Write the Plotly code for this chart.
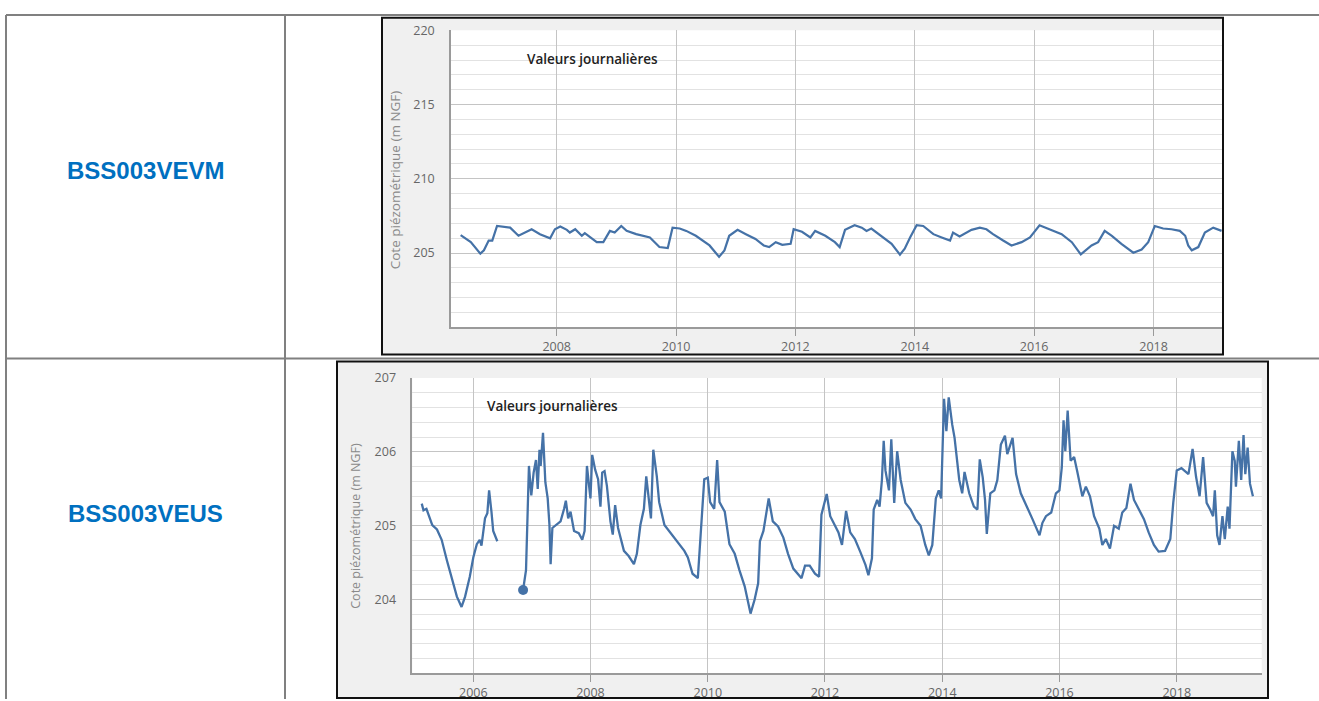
import datetime as dt
import plotly.graph_objects as go

W, H = 1319, 701

# ---------------- data ----------------
station_labels = ["BSS003VEVM", "BSS003VEUS"]
series_label = "Valeurs journalières"
y_title = "Cote piézométrique (m NGF)"

vevm_years = [
    2006.39, 2006.56, 2006.72, 2006.78, 2006.86, 2006.92, 2007.00, 2007.11, 2007.22, 2007.36,
    2007.44, 2007.58, 2007.72, 2007.89, 2007.97, 2008.06, 2008.17, 2008.22, 2008.31, 2008.42,
    2008.47, 2008.67, 2008.78, 2008.89, 2008.97, 2009.08, 2009.17, 2009.33, 2009.56, 2009.72,
    2009.86, 2009.94, 2010.06, 2010.17, 2010.33, 2010.56, 2010.72, 2010.81, 2010.89, 2011.03,
    2011.17, 2011.33, 2011.47, 2011.56, 2011.67, 2011.78, 2011.92, 2011.97, 2012.11, 2012.25,
    2012.33, 2012.50, 2012.66, 2012.74, 2012.83, 2012.99, 2013.11, 2013.19, 2013.27, 2013.44,
    2013.61, 2013.75, 2013.83, 2013.92, 2014.03, 2014.14, 2014.31, 2014.45, 2014.59, 2014.64,
    2014.75, 2014.95, 2015.09, 2015.20, 2015.31, 2015.48, 2015.62, 2015.79, 2015.93, 2016.09,
    2016.23, 2016.46, 2016.63, 2016.78, 2016.96, 2017.07, 2017.18, 2017.30, 2017.46, 2017.66,
    2017.80, 2017.91, 2018.02, 2018.16, 2018.30, 2018.44, 2018.53, 2018.58, 2018.64, 2018.75,
    2018.86, 2019.00, 2019.14,
]
vevm_levels = [
    206.21, 205.73, 204.96, 205.18, 205.84, 205.84, 206.82, 206.78, 206.71, 206.16,
    206.34, 206.60, 206.27, 205.99, 206.60, 206.78, 206.56, 206.38, 206.60, 206.16,
    206.34, 205.73, 205.73, 206.49, 206.38, 206.82, 206.49, 206.27, 206.05, 205.40,
    205.33, 206.71, 206.65, 206.49, 206.16, 205.51, 204.74, 205.18, 206.16, 206.56,
    206.27, 205.95, 205.51, 205.40, 205.73, 205.55, 205.62, 206.60, 206.43, 206.05,
    206.49, 206.16, 205.73, 205.40, 206.56, 206.87, 206.71, 206.49, 206.65, 206.16,
    205.62, 204.89, 205.29, 206.05, 206.87, 206.82, 206.27, 206.05, 205.84, 206.38,
    206.12, 206.56, 206.71, 206.60, 206.27, 205.84, 205.51, 205.73, 206.05, 206.87,
    206.65, 206.27, 205.73, 204.91, 205.51, 205.73, 206.49, 206.16, 205.62, 205.02,
    205.24, 205.73, 206.82, 206.65, 206.60, 206.49, 206.16, 205.51, 205.18, 205.40,
    206.38, 206.71, 206.49,
]

# None marks the gap in the record (mid-2006)
veus_years = [
    2005.12, 2005.15, 2005.20, 2005.24, 2005.30, 2005.38, 2005.46, 2005.55, 2005.63, 2005.72,
    2005.80, 2005.86, 2005.94, 2006.00, 2006.06, 2006.11, 2006.14, 2006.20, 2006.24, 2006.27,
    2006.31, 2006.34, 2006.41, None,
    2006.85, 2006.90, 2006.95, 2006.99, 2007.03, 2007.07, 2007.10, 2007.13, 2007.15, 2007.19,
    2007.23, 2007.27, 2007.30, 2007.32, 2007.35, 2007.41, 2007.49, 2007.55, 2007.58, 2007.62,
    2007.66, 2007.72, 2007.80, 2007.86, 2007.90, 2007.94, 2008.00, 2008.03, 2008.08, 2008.13,
    2008.17, 2008.20, 2008.24, 2008.28, 2008.34, 2008.38, 2008.42, 2008.47, 2008.57, 2008.65,
    2008.74, 2008.79, 2008.85, 2008.91, 2008.95, 2009.03, 2009.07, 2009.13, 2009.17, 2009.26,
    2009.34, 2009.43, 2009.51, 2009.60, 2009.66, 2009.74, 2009.83, 2009.89, 2009.94, 2010.00,
    2010.04, 2010.11, 2010.16, 2010.20, 2010.29, 2010.37, 2010.46, 2010.54, 2010.63, 2010.73,
    2010.80, 2010.86, 2010.89, 2010.95, 2011.04, 2011.11, 2011.20, 2011.29, 2011.37, 2011.46,
    2011.54, 2011.60, 2011.66, 2011.74, 2011.83, 2011.90, 2011.94, 2012.03, 2012.09, 2012.17,
    2012.23, 2012.29, 2012.36, 2012.43, 2012.51, 2012.60, 2012.69, 2012.74, 2012.80, 2012.83,
    2012.89, 2012.93, 2012.97, 2013.00, 2013.03, 2013.09, 2013.13, 2013.18, 2013.23, 2013.29,
    2013.37, 2013.46, 2013.54, 2013.63, 2013.71, 2013.77, 2013.83, 2013.89, 2013.94, 2013.98,
    2014.03, 2014.07, 2014.11, 2014.17, 2014.21, 2014.29, 2014.34, 2014.38, 2014.46, 2014.54,
    2014.60, 2014.64, 2014.69, 2014.73, 2014.76, 2014.82, 2014.89, 2014.94, 2015.00, 2015.07,
    2015.11, 2015.20, 2015.26, 2015.34, 2015.43, 2015.54, 2015.66, 2015.71, 2015.77, 2015.86,
    2015.94, 2016.00, 2016.04, 2016.07, 2016.10, 2016.14, 2016.19, 2016.25, 2016.30, 2016.35,
    2016.39, 2016.45, 2016.52, 2016.59, 2016.68, 2016.73, 2016.79, 2016.86, 2016.93, 2017.01,
    2017.07, 2017.14, 2017.21, 2017.27, 2017.35, 2017.44, 2017.52, 2017.61, 2017.69, 2017.80,
    2017.89, 2017.94, 2018.00, 2018.08, 2018.20, 2018.27, 2018.33, 2018.39, 2018.45, 2018.51,
    2018.57, 2018.62, 2018.65, 2018.69, 2018.73, 2018.78, 2018.82, 2018.87, 2018.90, 2018.95,
    2018.99, 2019.01, 2019.06, 2019.10, 2019.14, 2019.17, 2019.21, 2019.25, 2019.30,
]
veus_levels = [
    205.30, 205.21, 205.23, 205.15, 205.01, 204.95, 204.81, 204.53, 204.31, 204.04,
    203.90, 204.04, 204.31, 204.57, 204.75, 204.81, 204.73, 205.10, 205.17, 205.48,
    205.19, 204.93, 204.79, None,
    204.13, 204.40, 205.81, 205.41, 205.72, 205.89, 205.50, 206.03, 205.81, 206.26,
    205.59, 205.37, 205.01, 204.48, 204.97, 205.01, 205.06, 205.23, 205.34, 205.10,
    205.19, 204.93, 204.90, 204.81, 204.93, 205.81, 205.37, 205.96, 205.76, 205.63,
    205.26, 205.72, 205.74, 205.54, 205.06, 204.88, 205.28, 204.97, 204.66, 204.59,
    204.48, 204.62, 205.01, 205.23, 205.67, 205.10, 206.03, 205.67, 205.32, 205.01,
    204.93, 204.84, 204.75, 204.66, 204.57, 204.35, 204.29, 204.97, 205.63, 205.65,
    205.32, 205.23, 205.89, 205.32, 205.19, 204.75, 204.62, 204.40, 204.18, 203.81,
    204.00, 204.22, 204.79, 204.93, 205.37, 205.06, 204.99, 204.84, 204.62, 204.42,
    204.35, 204.29, 204.46, 204.46, 204.35, 204.31, 205.15, 205.43, 205.13, 205.00,
    204.91, 204.74, 205.20, 204.91, 204.82, 204.65, 204.47, 204.33, 204.56, 205.22,
    205.35, 205.26, 205.62, 206.15, 205.75, 205.48, 206.17, 205.31, 206.01, 205.62,
    205.31, 205.22, 205.09, 205.00, 204.74, 204.60, 204.74, 205.37, 205.48, 205.37,
    206.72, 206.28, 206.74, 206.37, 206.19, 205.62, 205.44, 205.73, 205.44, 205.26,
    205.22, 205.90, 205.66, 205.35, 204.89, 205.44, 205.48, 205.62, 206.10, 206.22,
    205.97, 206.19, 205.70, 205.44, 205.29, 205.09, 204.87, 205.04, 205.13, 205.18,
    205.44, 205.48, 205.79, 206.43, 206.01, 206.56, 205.88, 205.93, 205.75, 205.57,
    205.40, 205.53, 205.40, 205.13, 204.96, 204.74, 204.82, 204.69, 205.00, 204.96,
    205.18, 205.24, 205.57, 205.35, 205.22, 205.09, 204.91, 204.74, 204.65, 204.66,
    204.82, 205.31, 205.75, 205.78, 205.70, 206.04, 205.66, 205.40, 205.93, 205.31,
    205.22, 205.13, 205.48, 204.87, 204.74, 205.13, 204.82, 205.26, 204.96, 206.01,
    205.88, 205.53, 206.15, 205.62, 206.23, 205.70, 206.06, 205.57, 205.40,
]

vevm_y_ticks = [205, 210, 215, 220]
veus_y_ticks = [204, 205, 206, 207]


def to_date(y):
    if y is None:
        return None
    yr = int(y)
    start = dt.datetime(yr, 1, 1)
    end = dt.datetime(yr + 1, 1, 1)
    return start + (end - start) * (y - yr)


vevm_dates = [to_date(v) for v in vevm_years]
veus_dates = [to_date(v) for v in veus_years]
restart = veus_years.index(None) + 1

# ---------------- layout helpers (pixels -> paper) ----------------
def px(x):
    return x / W


def py(y):
    return 1 - y / H


LINE = "#4572a7"
GRID = "#c4c4c4"
MINOR = "#e2e2e2"
AXLINE = "#9a9a9a"
TICKFONT = dict(family="Open Sans, DejaVu Sans, sans-serif", size=12.5, color="#666666")

fig = go.Figure()
fig.add_trace(go.Scatter(x=vevm_dates, y=vevm_levels, mode="lines",
                         line=dict(color=LINE, width=2.2), xaxis="x", yaxis="y",
                         hoverinfo="x+y"))
fig.add_trace(go.Scatter(x=veus_dates, y=veus_levels, mode="lines", connectgaps=False,
                         line=dict(color=LINE, width=2.3), xaxis="x2", yaxis="y2",
                         hoverinfo="x+y"))
fig.add_trace(go.Scatter(x=[veus_dates[restart]], y=[veus_levels[restart]], mode="markers",
                         marker=dict(color=LINE, size=10), xaxis="x2", yaxis="y2",
                         hoverinfo="x+y"))

# chart geometry in pixels
top_plot = (451, 21.7, 1222, 323.3)
bot_plot = (412.3, 375, 1261.7, 675)


def xaxis_cfg(plot, rng, anchor):
    return dict(domain=[px(plot[0]), px(plot[2])], anchor=anchor, type="date",
                range=[to_date(rng[0]), to_date(rng[1])],
                tick0="2006-01-01", dtick="M24", tickformat="%Y",
                showgrid=True, gridcolor=GRID, gridwidth=1,
                showline=True, linecolor=AXLINE, linewidth=1.5,
                ticks="outside", ticklen=7, tickcolor=AXLINE,
                tickfont=TICKFONT, zeroline=False, fixedrange=True)


def yaxis_cfg(plot, rng, ticks, minor_step, anchor):
    return dict(domain=[py(plot[3]), py(plot[1])], anchor=anchor,
                range=rng, tickvals=ticks, ticktext=[str(t) for t in ticks],
                showgrid=True, gridcolor=GRID, gridwidth=1,
                minor=dict(dtick=minor_step, tick0=rng[0], showgrid=True,
                           gridcolor=MINOR, gridwidth=1, ticks=""),
                showline=True, linecolor=AXLINE, linewidth=1.5,
                ticks="outside", ticklen=12, tickcolor="rgba(0,0,0,0)",
                tickfont=TICKFONT, zeroline=False, fixedrange=True)


shapes = []
# table grid
TBL = dict(color="#808080", width=2)
for (x0, y0, x1, y1) in [(6, 6, W, 6), (6, 6, 6, H), (285, 6, 285, H), (6, 355, W, 355)]:
    shapes.append(dict(type="line", xref="paper", yref="paper",
                       x0=px(x0), y0=py(y0), x1=px(x1), y1=py(y1), line=TBL, layer="below"))
# chart frames and white plot areas
for frame, plot in [((382, 9, 1223, 351), top_plot), ((337, 358, 1268, 700), bot_plot)]:
    shapes.append(dict(type="rect", xref="paper", yref="paper",
                       x0=px(frame[0]), y0=py(frame[3]), x1=px(frame[2]), y1=py(frame[1]),
                       fillcolor="#f0f0f0", line=dict(color="#111111", width=2), layer="below"))
    shapes.append(dict(type="rect", xref="paper", yref="paper",
                       x0=px(plot[0]), y0=py(plot[3]), x1=px(plot[2]), y1=py(plot[1]),
                       fillcolor="white", line=dict(width=0), layer="below"))

annotations = []
LABFONT = dict(family="Liberation Sans, Arial, sans-serif",
               size=24, color="#0070c0", weight="bold")
for text, ypx in zip(station_labels, [164, 513]):
    annotations.append(dict(text=text, x=px(145), y=py(ypx), xref="paper", yref="paper",
                            xanchor="center", yanchor="middle", showarrow=False, font=LABFONT))
SERFONT = dict(family="Open Sans, DejaVu Sans, sans-serif", size=13.5, color="#222222", weight=600)
for xc, yc in [(592, 51), (552, 403)]:
    annotations.append(dict(text=series_label, x=px(xc), y=py(yc), xref="paper", yref="paper",
                            xanchor="center", yanchor="middle", showarrow=False, font=SERFONT))
for xc, yc, fs in [(395, 174, 13.5), (356, 525, 12.5)]:
    annotations.append(dict(text=y_title, x=px(xc), y=py(yc), xref="paper", yref="paper",
                            xanchor="center", yanchor="middle", textangle=-90,
                            showarrow=False,
                            font=dict(family="Open Sans, DejaVu Sans, sans-serif",
                                      size=fs, color="#8a8a8a")))

fig.update_layout(
    width=W, height=H, margin=dict(l=0, r=0, t=0, b=0),
    paper_bgcolor="white", plot_bgcolor="white", showlegend=False,
    xaxis=xaxis_cfg(top_plot, (2006.228, 2019.147), "y"),
    yaxis=yaxis_cfg(top_plot, [200, 220], vevm_y_ticks, 1, "x"),
    xaxis2=xaxis_cfg(bot_plot, (2004.959, 2019.45), "y2"),
    yaxis2=yaxis_cfg(bot_plot, [203, 207], veus_y_ticks, 0.2, "x2"),
    shapes=shapes, annotations=annotations,
)

# place the graph at the page's top-left corner (no default body margin)
pin_script = (
    "document.body.style.margin='0';"
    "var d=document.getElementById('{plot_id}');"
    "d.style.position='absolute';d.style.left='0px';d.style.top='0px';"
)
fig.write_html("out.html", post_script=pin_script, config={"displayModeBar": False})
